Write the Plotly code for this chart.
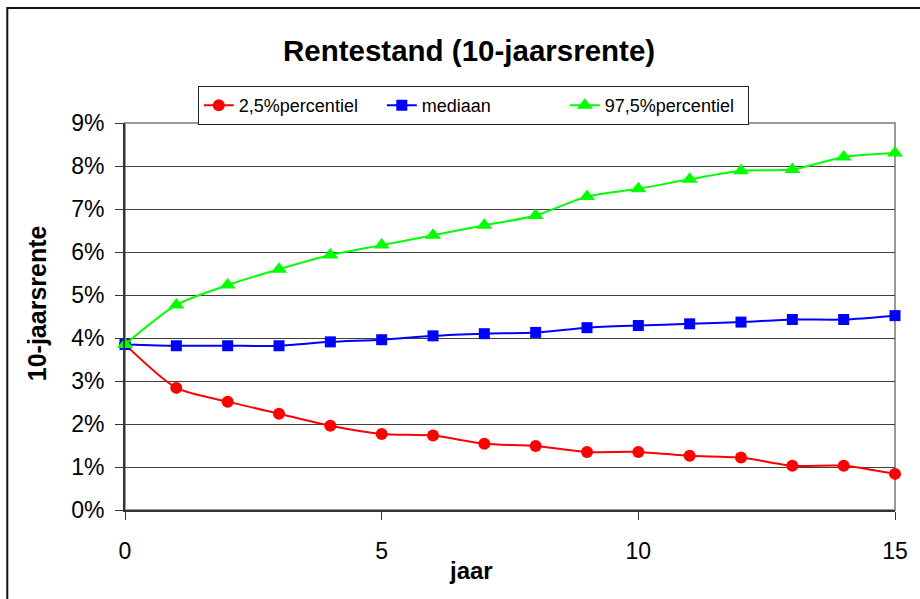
import plotly.graph_objects as go

# Simulated 10-year interest rate: percentile bands per year (in %)
jaar = list(range(16))
percentiel_2_5 = [3.85, 2.84, 2.52, 2.24, 1.96, 1.77, 1.73, 1.54, 1.49, 1.35, 1.35, 1.26, 1.22, 1.03, 1.03, 0.84]
mediaan = [3.85, 3.82, 3.82, 3.82, 3.91, 3.96, 4.05, 4.10, 4.13, 4.24, 4.29, 4.33, 4.37, 4.43, 4.43, 4.52]
percentiel_97_5 = [3.85, 4.77, 5.23, 5.60, 5.93, 6.16, 6.39, 6.62, 6.85, 7.29, 7.47, 7.69, 7.89, 7.92, 8.21, 8.30]

series_names = ["2,5%percentiel", "mediaan", "97,5%percentiel"]
y_ticks = list(range(10))
y_tick_labels = [f"{v}%" for v in y_ticks]
x_ticks = [0, 5, 10, 15]

FONT = "Liberation Sans, Arial, sans-serif"

W, H = 920, 599
L, R, T, B = 125, 23, 123, 89
pw, ph = W - L - R, H - T - B


def px_x(p):
    return (p - L) / pw


def px_y(p):
    return (H - B - p) / ph


fig = go.Figure()

styles = [
    dict(color="#ff0000", symbol="circle", size=12),
    dict(color="#0000ff", symbol="square", size=11),
    dict(color="#00ff00", symbol="triangle-up", size=14),
]
for name, vals, st in zip(series_names, [percentiel_2_5, mediaan, percentiel_97_5], styles):
    fig.add_trace(go.Scatter(
        x=jaar, y=vals, name=name, mode="lines+markers",
        line=dict(color=st["color"], width=2, shape="spline", smoothing=0.7),
        marker=dict(color=st["color"], symbol=st["symbol"], size=st["size"], line=dict(width=0)),
        cliponaxis=False,
    ))

fig.update_layout(
    width=W, height=H,
    margin=dict(l=L, r=R, t=T, b=B),
    paper_bgcolor="white", plot_bgcolor="white",
    font=dict(family=FONT, color="black"),
    showlegend=True,
    legend=dict(
        orientation="h", x=px_x(198), y=px_y(86), xanchor="left", yanchor="top",
        bordercolor="#222222", borderwidth=1, bgcolor="white",
        font=dict(family=FONT, size=18, color="black"),
        entrywidth=138, entrywidthmode="pixels", tracegroupgap=0,
    ),
    xaxis=dict(
        range=[0, 15], tickvals=x_ticks, ticks="outside", ticklen=8, tickcolor="#333333",
        showgrid=False, zeroline=False, showline=True, linecolor="#333333", linewidth=2,
        tickfont=dict(family=FONT, size=23, color="black"), ticklabelstandoff=11,
    ),
    yaxis=dict(
        range=[0, 9], tickvals=y_ticks, ticktext=y_tick_labels, ticks="outside", ticklen=8,
        tickcolor="#333333", showgrid=True, gridcolor="#404040", gridwidth=1,
        zeroline=False, showline=True, linecolor="#333333", linewidth=2,
        tickfont=dict(family=FONT, size=23, color="black"), ticklabelstandoff=6,
    ),
    shapes=[
        # plot area frame
        dict(type="rect", xref="paper", yref="paper", x0=0, x1=1, y0=0, y1=1,
             line=dict(color="#999999", width=2), layer="below"),
        # chart border
        dict(type="rect", xref="paper", yref="paper",
             x0=px_x(7), x1=px_x(960), y0=px_y(640), y1=px_y(8),
             line=dict(color="#111111", width=2)),
    ],
    annotations=[
        dict(text="<b>Rentestand (10-jaarsrente)</b>", xref="paper", yref="paper",
             x=px_x(470), y=px_y(51), xanchor="center", yanchor="middle", showarrow=False,
             font=dict(family=FONT, size=29.5, color="black")),
        dict(text="<b>jaar</b>", xref="paper", yref="paper",
             x=px_x(472), y=px_y(570), xanchor="center", yanchor="middle", showarrow=False,
             font=dict(family=FONT, size=24, color="black")),
        dict(text="<b>10-jaarsrente</b>", xref="paper", yref="paper", textangle=-90,
             x=px_x(37), y=px_y(303), xanchor="center", yanchor="middle", showarrow=False,
             font=dict(family=FONT, size=25, color="black")),
    ],
)

fig.write_html("out.html")
